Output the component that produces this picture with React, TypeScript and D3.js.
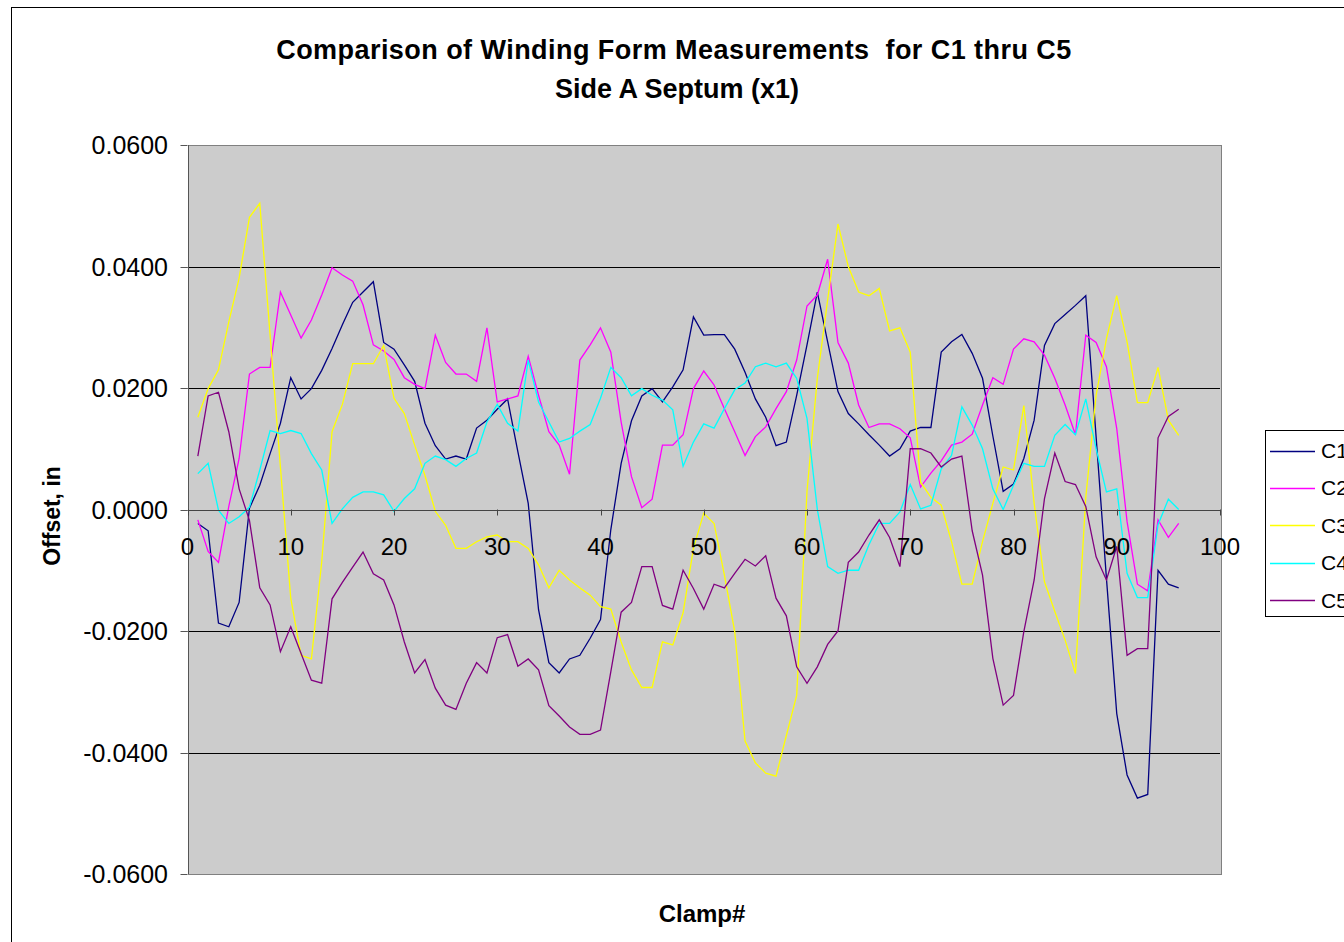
import React, { useRef, useEffect } from 'react';
import * as d3 from 'd3';

// Offsets (in) per clamp, clamps 1..96
const C1 = [-0.0023, -0.0035, -0.0187, -0.0193, -0.0153, 0.0002, 0.0040, 0.0092, 0.0142, 0.0217, 0.0182, 0.0199, 0.0229, 0.0265, 0.0304, 0.0341, 0.0358, 0.0375, 0.0275, 0.0264, 0.0238, 0.0211, 0.0142, 0.0105, 0.0083, 0.0088, 0.0083, 0.0134, 0.0147, 0.0165, 0.0182, 0.0095, 0.0010, -0.0165, -0.0252, -0.0269, -0.0246, -0.0240, -0.0212, -0.0181, -0.0033, 0.0076, 0.0146, 0.0187, 0.0199, 0.0177, 0.0202, 0.0230, 0.0317, 0.0287, 0.0288, 0.0288, 0.0264, 0.0226, 0.0182, 0.0152, 0.0105, 0.0111, 0.0188, 0.0271, 0.0358, 0.0276, 0.0194, 0.0158, 0.0141, 0.0123, 0.0106, 0.0088, 0.0100, 0.0129, 0.0135, 0.0135, 0.0259, 0.0276, 0.0288, 0.0257, 0.0216, 0.0121, 0.0030, 0.0042, 0.0084, 0.0147, 0.0270, 0.0306, 0.0321, 0.0336, 0.0352, 0.0120, -0.0113, -0.0336, -0.0437, -0.0475, -0.0469, -0.0100, -0.0123, -0.0129];
const C2 = [-0.0017, -0.0069, -0.0087, 0.0005, 0.0084, 0.0223, 0.0234, 0.0234, 0.0358, 0.0320, 0.0282, 0.0312, 0.0353, 0.0398, 0.0386, 0.0376, 0.0337, 0.0271, 0.0261, 0.0247, 0.0217, 0.0206, 0.0199, 0.0287, 0.0242, 0.0223, 0.0223, 0.0211, 0.0299, 0.0177, 0.0182, 0.0187, 0.0252, 0.0188, 0.0128, 0.0106, 0.0058, 0.0246, 0.0271, 0.0299, 0.0259, 0.0144, 0.0054, 0.0003, 0.0017, 0.0106, 0.0106, 0.0123, 0.0199, 0.0228, 0.0205, 0.0166, 0.0128, 0.0089, 0.0120, 0.0136, 0.0166, 0.0194, 0.0246, 0.0335, 0.0353, 0.0412, 0.0275, 0.0241, 0.0172, 0.0135, 0.0141, 0.0141, 0.0133, 0.0118, 0.0037, 0.0060, 0.0080, 0.0106, 0.0111, 0.0124, 0.0172, 0.0217, 0.0206, 0.0264, 0.0281, 0.0276, 0.0254, 0.0216, 0.0172, 0.0123, 0.0287, 0.0275, 0.0235, 0.0133, -0.0020, -0.0123, -0.0134, -0.0017, -0.0046, -0.0023];
const C3 = [0.0152, 0.0199, 0.0230, 0.0309, 0.0381, 0.0481, 0.0504, 0.0287, 0.0070, -0.0146, -0.0240, -0.0246, -0.0086, 0.0128, 0.0173, 0.0240, 0.0240, 0.0240, 0.0270, 0.0183, 0.0158, 0.0106, 0.0056, -0.0003, -0.0026, -0.0064, -0.0064, -0.0053, -0.0045, -0.0042, -0.0053, -0.0053, -0.0064, -0.0091, -0.0129, -0.0100, -0.0116, -0.0129, -0.0141, -0.0160, -0.0164, -0.0218, -0.0264, -0.0293, -0.0293, -0.0218, -0.0223, -0.0170, -0.0064, -0.0006, -0.0023, -0.0108, -0.0201, -0.0381, -0.0417, -0.0434, -0.0439, -0.0372, -0.0306, 0.0030, 0.0216, 0.0345, 0.0470, 0.0400, 0.0358, 0.0352, 0.0364, 0.0294, 0.0299, 0.0259, 0.0045, 0.0020, 0.0007, -0.0053, -0.0123, -0.0123, -0.0053, 0.0010, 0.0070, 0.0065, 0.0171, 0.0010, -0.0119, -0.0168, -0.0215, -0.0270, 0.0020, 0.0188, 0.0281, 0.0352, 0.0276, 0.0176, 0.0176, 0.0234, 0.0147, 0.0122];
const C4 = [0.0059, 0.0076, -0.0001, -0.0023, -0.0012, 0.0004, 0.0065, 0.0130, 0.0125, 0.0130, 0.0125, 0.0092, 0.0065, -0.0023, 0.0001, 0.0020, 0.0029, 0.0029, 0.0024, -0.0003, 0.0018, 0.0034, 0.0076, 0.0088, 0.0082, 0.0071, 0.0084, 0.0093, 0.0144, 0.0173, 0.0142, 0.0129, 0.0246, 0.0177, 0.0144, 0.0111, 0.0117, 0.0129, 0.0140, 0.0183, 0.0234, 0.0217, 0.0187, 0.0199, 0.0188, 0.0180, 0.0164, 0.0071, 0.0111, 0.0141, 0.0134, 0.0166, 0.0197, 0.0208, 0.0235, 0.0241, 0.0235, 0.0241, 0.0216, 0.0150, 0.0000, -0.0094, -0.0105, -0.0100, -0.0100, -0.0058, -0.0023, -0.0023, -0.0004, 0.0041, 0.0001, 0.0007, 0.0067, 0.0089, 0.0169, 0.0139, 0.0100, 0.0034, 0.0000, 0.0040, 0.0076, 0.0071, 0.0071, 0.0122, 0.0140, 0.0123, 0.0182, 0.0100, 0.0029, 0.0034, -0.0105, -0.0145, -0.0145, -0.0025, 0.0017, 0.0000];
const C5 = [0.0088, 0.0187, 0.0193, 0.0128, 0.0034, -0.0018, -0.0129, -0.0157, -0.0234, -0.0193, -0.0237, -0.0281, -0.0286, -0.0147, -0.0120, -0.0095, -0.0070, -0.0106, -0.0116, -0.0157, -0.0218, -0.0269, -0.0247, -0.0294, -0.0322, -0.0329, -0.0286, -0.0252, -0.0269, -0.0211, -0.0206, -0.0258, -0.0246, -0.0264, -0.0323, -0.0340, -0.0358, -0.0370, -0.0370, -0.0363, -0.0267, -0.0169, -0.0153, -0.0094, -0.0094, -0.0158, -0.0164, -0.0100, -0.0130, -0.0164, -0.0123, -0.0129, -0.0105, -0.0082, -0.0093, -0.0076, -0.0146, -0.0175, -0.0259, -0.0286, -0.0259, -0.0222, -0.0200, -0.0087, -0.0070, -0.0042, -0.0017, -0.0046, -0.0094, 0.0100, 0.0100, 0.0093, 0.0070, 0.0083, 0.0088, -0.0035, -0.0108, -0.0245, -0.0322, -0.0306, -0.0201, -0.0116, 0.0018, 0.0093, 0.0046, 0.0041, 0.0005, -0.0078, -0.0116, -0.0061, -0.0240, -0.0229, -0.0229, 0.0118, 0.0153, 0.0165];

const SERIES_NAMES = ['C1', 'C2', 'C3', 'C4', 'C5'];
const SERIES_COLORS = ['#000080', '#ff00ff', '#ffff00', '#00ffff', '#800080'];
const X_TICKS = [0, 10, 20, 30, 40, 50, 60, 70, 80, 90, 100];
const Y_TICKS = [-0.06, -0.04, -0.02, 0, 0.02, 0.04, 0.06];
const TITLE = ['Comparison of Winding Form Measurements  for C1 thru C5', 'Side A Septum (x1)'];

const FONT = '"Liberation Sans", Arial, sans-serif';

export default function App() {
  const svgRef = useRef(null);

  useEffect(() => {
    const svg = d3.select(svgRef.current);
    svg.selectAll('*').remove();

    const plot = { left: 187.5, right: 1220, top: 145, bottom: 874 };
    const x = d3.scaleLinear().domain([0, 100]).range([plot.left, plot.right]);
    const y = d3.scaleLinear().domain([-0.06, 0.06]).range([plot.bottom, plot.top]);
    const crisp = v => Math.round(v) + 0.5;

    // ── Chart frame ───────────────────────────────────────────────────────────
    svg.append('rect')
      .attr('x', 11.5).attr('y', 7.5)
      .attr('width', 1400).attr('height', 1000)
      .attr('fill', '#fff')
      .attr('stroke', '#000');

    // ── Plot area ─────────────────────────────────────────────────────────────
    svg.append('rect')
      .attr('x', crisp(plot.left)).attr('y', crisp(plot.top))
      .attr('width', Math.round(plot.right - plot.left))
      .attr('height', Math.round(plot.bottom - plot.top))
      .attr('fill', '#cccccc')
      .attr('stroke', '#808080');

    // gridlines
    Y_TICKS.filter(t => t !== 0 && Math.abs(t) < 0.06).forEach(t => {
      svg.append('line')
        .attr('x1', plot.left).attr('x2', plot.right)
        .attr('y1', crisp(y(t))).attr('y2', crisp(y(t)))
        .attr('stroke', '#000')
        .attr('stroke-width', 1);
    });

    // y axis line + ticks + labels
    svg.append('line')
      .attr('x1', crisp(plot.left)).attr('x2', crisp(plot.left))
      .attr('y1', plot.top).attr('y2', plot.bottom)
      .attr('stroke', '#555');

    Y_TICKS.forEach(t => {
      svg.append('line')
        .attr('x1', plot.left - 7).attr('x2', plot.left)
        .attr('y1', crisp(y(t))).attr('y2', crisp(y(t)))
        .attr('stroke', '#555');
      svg.append('text')
        .attr('x', 168)
        .attr('y', y(t))
        .attr('dy', '0.36em')
        .attr('text-anchor', 'end')
        .attr('font-family', FONT)
        .attr('font-size', '25px')
        .attr('fill', '#000')
        .text(t.toFixed(4));
    });

    // ── Series ────────────────────────────────────────────────────────────────
    const line = d3.line()
      .x((_, i) => x(i + 1))
      .y(d => y(d));

    [C1, C2, C3, C4, C5].forEach((values, k) => {
      svg.append('path')
        .datum(values)
        .attr('d', line)
        .attr('fill', 'none')
        .attr('stroke', SERIES_COLORS[k])
        .attr('stroke-width', 1.3)
        .attr('stroke-linejoin', 'miter');
    });

    // x axis at zero
    svg.append('line')
      .attr('x1', plot.left).attr('x2', plot.right)
      .attr('y1', crisp(y(0))).attr('y2', crisp(y(0)))
      .attr('stroke', '#444')
      .attr('stroke-width', 1.2);

    X_TICKS.forEach(t => {
      svg.append('line')
        .attr('x1', crisp(x(t))).attr('x2', crisp(x(t)))
        .attr('y1', y(0)).attr('y2', y(0) + 6)
        .attr('stroke', '#444');
      svg.append('text')
        .attr('x', x(t))
        .attr('y', 555)
        .attr('text-anchor', 'middle')
        .attr('font-family', FONT)
        .attr('font-size', '24px')
        .attr('fill', '#000')
        .text(t);
    });

    // ── Titles ────────────────────────────────────────────────────────────────
    TITLE.forEach((t, i) => {
      svg.append('text')
        .attr('x', i === 0 ? 674 : 677)
        .attr('y', 59 + i * 39)
        .attr('text-anchor', 'middle')
        .attr('font-family', FONT)
        .attr('font-size', '27px')
        .attr('font-weight', 'bold')
        .attr('letter-spacing', i === 0 ? '0.45px' : '0px')
        .attr('fill', '#000')
        .style('white-space', 'pre')
        .text(t);
    });

    svg.append('text')
      .attr('transform', 'translate(60,516) rotate(-90)')
      .attr('text-anchor', 'middle')
      .attr('font-family', FONT)
      .attr('font-size', '23px')
      .attr('font-weight', 'bold')
      .attr('fill', '#000')
      .text('Offset, in');

    svg.append('text')
      .attr('x', 702)
      .attr('y', 922)
      .attr('text-anchor', 'middle')
      .attr('font-family', FONT)
      .attr('font-size', '24px')
      .attr('font-weight', 'bold')
      .attr('fill', '#000')
      .text('Clamp#');

    // ── Legend ────────────────────────────────────────────────────────────────
    svg.append('rect')
      .attr('x', 1265.5).attr('y', 430.5)
      .attr('width', 200).attr('height', 186)
      .attr('fill', '#fff')
      .attr('stroke', '#000');

    SERIES_NAMES.forEach((name, k) => {
      const ly = 450.5 + k * 37.4;
      svg.append('line')
        .attr('x1', 1270).attr('x2', 1315)
        .attr('y1', Math.round(ly) + 0.5).attr('y2', Math.round(ly) + 0.5)
        .attr('stroke', SERIES_COLORS[k])
        .attr('stroke-width', 1.3);
      svg.append('text')
        .attr('x', 1321)
        .attr('y', ly)
        .attr('dy', '0.36em')
        .attr('font-family', FONT)
        .attr('font-size', '21px')
        .attr('fill', '#000')
        .text(name);
    });
  }, []);

  return (
    <svg
      ref={svgRef}
      width={1344}
      height={942}
      style={{ position: 'absolute', left: 0, top: 0, background: '#fff' }}
    />
  );
}
